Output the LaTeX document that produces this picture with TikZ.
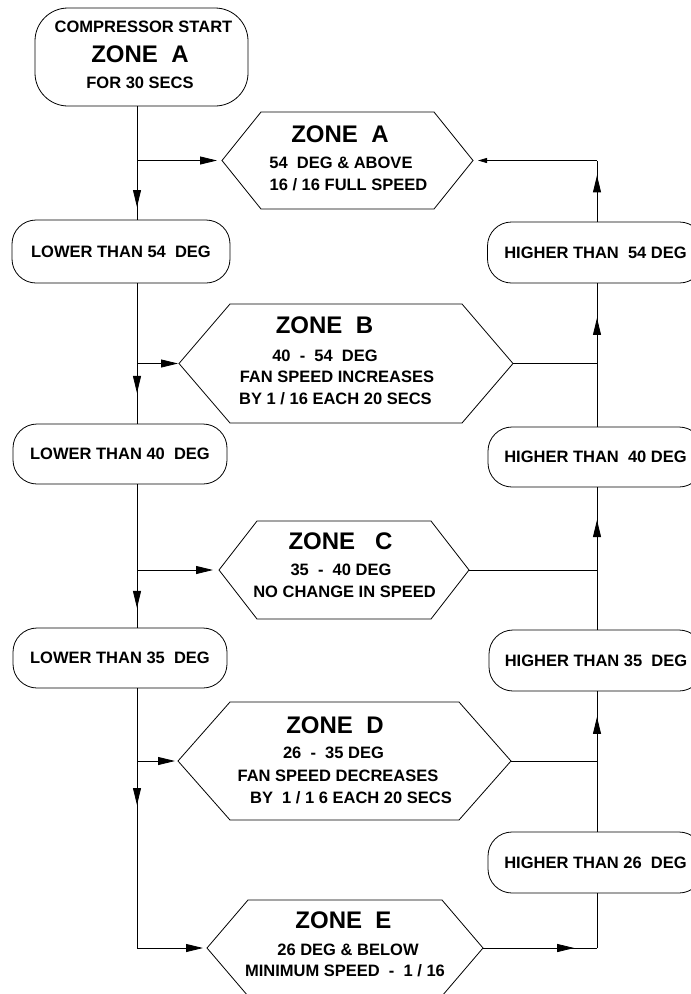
\documentclass[tikz,border=0pt]{standalone}
\usepackage{fontspec}
\setmainfont{Liberation Sans}
\usetikzlibrary{arrows.meta,decorations.markings,calc}
\newcommand{\zonehex}[2]{\draw (#1.west) -- ([xshift=#2pt]#1.north west) -- ([xshift=-#2pt]#1.north east) -- (#1.east) -- ([xshift=-#2pt]#1.south east) -- ([xshift=#2pt]#1.south west) -- cycle;}
\begin{document}
\begin{tikzpicture}[x=1pt,y=-1pt, line width=0.8pt,
  sm/.style={font=\fontsize{16.5}{19}\selectfont\bfseries, inner sep=0pt, anchor=base},
  big/.style={font=\fontsize{24}{28}\selectfont\bfseries, inner sep=0pt, anchor=base},
  hexbase/.style={inner sep=0pt, outer sep=0pt},
  rbox/.style={draw, rounded corners=24pt, inner sep=0pt, outer sep=0pt, font=\fontsize{16.5}{19}\selectfont\bfseries},
  tipto/.style={-{Triangle[length=17pt,width=8pt]}},
  smalltip/.style={-{Triangle[length=9pt,width=5pt]}},
  midarr/.style={postaction={decorate}, decoration={markings, mark=at position #1 with {\arrow{Triangle[length=17pt,width=8pt]}}}}]
\useasboundingbox (0,0) rectangle (691,994);

% column coordinates
\coordinate (colL) at (137,0);
\coordinate (colR) at (597,0);

% start box
\node[draw, rounded corners=33pt, inner sep=0pt, outer sep=0pt, minimum width=213pt, minimum height=98pt] (start) at (141.5,57) {};
\node[sm] (st1) at (143.5,32.7) {COMPRESSOR START};
\node[big] (st2) at (140,62.6) {ZONE\ \ A};
\node[sm] (st3) at (140,88.7) {FOR 30 SECS};

% hexagons
\node[hexbase, minimum width=251pt, minimum height=97pt] (zA) at (347.5,160.5) {};
\zonehex{zA}{39}
\node[big] (zA1) at (340,142) {ZONE\ \ A};
\node[sm] (zA2) at (341,168) {54\ \ DEG \& ABOVE};
\node[sm] (zA3) at (348.5,190.7) {16 / 16 FULL SPEED};

\node[hexbase, minimum width=334pt, minimum height=119pt] (zB) at (346,363.5) {};
\zonehex{zB}{51}
\node[big] (zB1) at (324.5,333.6) {ZONE\ \ B};
\node[sm] (zB2) at (325,361.7) {40\ \ -\ \ 54\ \ DEG};
\node[sm] (zB3) at (337,382.2) {FAN SPEED INCREASES};
\node[sm] (zB4) at (335.5,404.2) {BY 1 / 16 EACH 20 SECS};

\node[hexbase, minimum width=250pt, minimum height=98pt] (zC) at (344,570) {};
\zonehex{zC}{38}
\node[big] (zC1) at (340.5,549.6) {ZONE\ \ \ C};
\node[sm] (zC2) at (341,575.7) {35\ \ -\ \ 40 DEG};
\node[sm] (zC3) at (344.5,597.7) {NO CHANGE IN SPEED};

\node[hexbase, minimum width=333pt, minimum height=118pt] (zD) at (344.5,761) {};
\zonehex{zD}{52}
\node[big] (zD1) at (335,733.6) {ZONE\ \ D};
\node[sm] (zD2) at (333.5,758.7) {26\ \ -\ \ 35 DEG};
\node[sm] (zD3) at (338,781.7) {FAN SPEED DECREASES};
\node[sm] (zD4) at (351,803.2) {BY\ \ 1 / 1 6 EACH 20 SECS};

\node[hexbase, minimum width=276pt, minimum height=96pt] (zE) at (345,948) {};
\zonehex{zE}{41}
\node[big] (zE1) at (343.5,928.6) {ZONE\ \ E};
\node[sm] (zE2) at (348,955.7) {26 DEG \& BELOW};
\node[sm] (zE3) at (345,976.7) {MINIMUM SPEED\ \ -\ \ 1 / 16};

% rounded boxes
\node[rbox, minimum width=218pt, minimum height=63pt] (l54) at (121,251.5) {LOWER THAN 54\ \ DEG};
\node[rbox, minimum width=214pt, minimum height=60pt] (l40) at (120,454) {LOWER THAN 40\ \ DEG};
\node[rbox, minimum width=214pt, minimum height=60pt] (l35) at (120,658) {LOWER THAN 35\ \ DEG};
\node[rbox, minimum width=216pt, minimum height=61pt] (h54) at (595.5,252.5) {HIGHER THAN\ \ 54 DEG};
\node[rbox, minimum width=215pt, minimum height=60pt] (h40) at (595.5,457) {HIGHER THAN\ \ 40 DEG};
\node[rbox, minimum width=214pt, minimum height=61pt] (h35) at (596,660.5) {HIGHER THAN 35\ \ DEG};
\node[rbox, minimum width=215pt, minimum height=61pt] (h26) at (595.5,862.5) {HIGHER THAN 26\ \ DEG};

% left column
\draw[midarr=0.886] (colL |- start.south) -- (colL |- l54.north);
\draw[tipto, shorten >=5pt] (colL |- zA.west) -- (zA.west);
\draw[midarr=0.78] (colL |- l54.south) -- (colL |- l40.north);
\draw[tipto, shorten >=1pt] (colL |- zB.west) -- (zB.west);
\draw[midarr=0.861] (colL |- l40.south) -- (colL |- l35.north);
\draw[tipto, shorten >=6pt] (colL |- zC.west) -- (zC.west);
\coordinate (cornerE) at (colL |- zE.west);
\draw[midarr=0.45] (colL |- l35.south) -- (cornerE);
\draw[tipto, shorten >=3pt] (colL |- zD.west) -- (zD.west);
\draw[tipto, shorten >=4pt] (cornerE) -- (zE.west);

% right column
\coordinate (cornerER) at (colR |- zE.east);
\draw[midarr=0.80] (zE.east) -- (cornerER);
\draw (cornerER) -- (colR |- h26.south);
\draw[midarr=0.816] (colR |- h26.north) -- (colR |- h35.south);
\draw (zD.east) -- (colR |- zD.east);
\draw[midarr=0.769] (colR |- h35.north) -- (colR |- h40.south);
\draw (zC.east) -- (colR |- zC.east);
\draw[midarr=0.757] (colR |- h40.north) -- (colR |- h54.south);
\draw (zB.east) -- (colR |- zB.east);
\coordinate (cornerA) at (colR |- zA.east);
\draw[midarr=0.758] (colR |- h54.north) -- (cornerA);
\draw[smalltip, shorten >=5pt] (cornerA) -- (zA.east);
\end{tikzpicture}
\end{document}
